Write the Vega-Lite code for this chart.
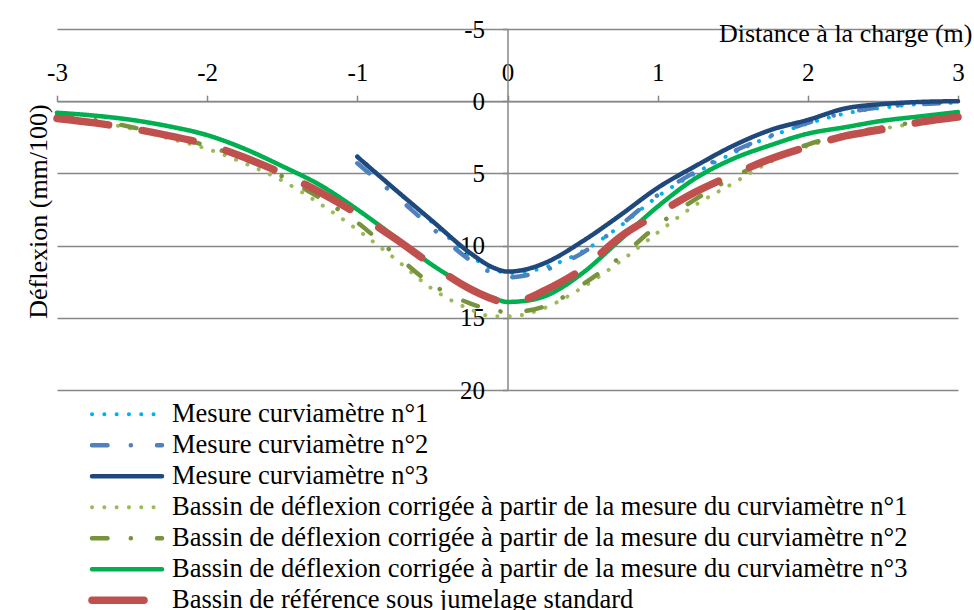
{
  "$schema": "https://vega.github.io/schema/vega-lite/v6.json",
  "width": 901,
  "height": 361,
  "autosize": "none",
  "padding": {"left": 57, "top": 29, "right": 16, "bottom": 220},
  "background": "white",
  "config": {
    "view": {"stroke": null},
    "font": "Liberation Serif",
    "legend": {"labelFont": "Liberation Serif", "labelFontSize": 26.5, "labelColor": "black"}
  },
  "data": {
    "values": [
      {"d": -3, "b1": 1.15, "b2": 1.0, "b3": 0.8, "ref": 1.2},
      {"d": -2.75, "b1": 1.45, "b2": 1.3, "b3": 1.0, "ref": 1.5},
      {"d": -2.5, "b1": 1.9, "b2": 1.8, "b3": 1.3, "ref": 1.9},
      {"d": -2.25, "b1": 2.6, "b2": 2.4, "b3": 1.75, "ref": 2.4},
      {"d": -2, "b1": 3.3, "b2": 3.1, "b3": 2.35, "ref": 3.0},
      {"d": -1.75, "b1": 4.3, "b2": 4.0, "b3": 3.3, "ref": 3.9},
      {"d": -1.5, "b1": 5.5, "b2": 5.2, "b3": 4.5, "ref": 5.0},
      {"d": -1.25, "b1": 7.1, "b2": 6.7, "b3": 5.8, "ref": 6.3},
      {"d": -1, "m1": 3.8, "m2": 4.3, "m3": 3.85, "b1": 8.9, "b2": 8.4, "b3": 7.5, "ref": 7.8},
      {"d": -0.75, "m1": 6.1, "m2": 6.5, "m3": 6.1, "b1": 10.9, "b2": 10.6, "b3": 9.4, "ref": 9.5},
      {"d": -0.5, "m1": 8.4, "m2": 8.8, "m3": 8.3, "b1": 13.0, "b2": 12.7, "b3": 11.35, "ref": 11.35},
      {"d": -0.25, "m1": 10.7, "m2": 11.0, "m3": 10.5, "b1": 14.4, "b2": 14.0, "b3": 12.9, "ref": 13.0},
      {"d": -0.1, "m1": 11.6, "m2": 11.9, "m3": 11.5, "b1": 14.9, "b2": 14.45, "b3": 13.6, "ref": 13.7},
      {"d": 0, "m1": 11.9, "m2": 12.2, "m3": 11.8, "b1": 14.9, "b2": 14.6, "b3": 13.9, "ref": 14.0},
      {"d": 0.1, "m1": 11.85, "m2": 12.1, "m3": 11.7, "b1": 14.8, "b2": 14.55, "b3": 13.85, "ref": 13.8},
      {"d": 0.25, "m1": 11.5, "m2": 11.7, "m3": 11.2, "b1": 14.3, "b2": 14.2, "b3": 13.5, "ref": 13.1},
      {"d": 0.5, "m1": 10.4, "m2": 10.5, "m3": 9.7, "b1": 12.9, "b2": 12.7, "b3": 11.9, "ref": 11.6},
      {"d": 0.75, "m1": 8.65, "m2": 8.6, "m3": 7.9, "b1": 11.1, "b2": 10.8, "b3": 9.6, "ref": 9.4},
      {"d": 1, "m1": 6.6, "m2": 6.5, "m3": 6.0, "b1": 9.1, "b2": 8.6, "b3": 7.3, "ref": 7.8},
      {"d": 1.25, "m1": 5.0, "m2": 4.9, "m3": 4.5, "b1": 7.2, "b2": 6.8, "b3": 5.35, "ref": 6.3},
      {"d": 1.5, "m1": 3.6, "m2": 3.5, "m3": 3.1, "b1": 5.7, "b2": 5.3, "b3": 4.0, "ref": 5.1},
      {"d": 1.75, "m1": 2.45, "m2": 2.4, "m3": 2.0, "b1": 4.2, "b2": 4.0, "b3": 3.05, "ref": 4.0},
      {"d": 2, "m1": 1.55, "m2": 1.5, "m3": 1.3, "b1": 3.1, "b2": 3.0, "b3": 2.25, "ref": 3.15},
      {"d": 2.25, "m1": 0.85, "m2": 0.8, "m3": 0.5, "b1": 2.45, "b2": 2.3, "b3": 1.8, "ref": 2.4},
      {"d": 2.5, "m1": 0.45, "m2": 0.4, "m3": 0.2, "b1": 1.9, "b2": 1.8, "b3": 1.35, "ref": 1.95},
      {"d": 2.75, "m1": 0.2, "m2": 0.2, "m3": 0.05, "b1": 1.5, "b2": 1.4, "b3": 1.05, "ref": 1.45},
      {"d": 3, "m1": 0.1, "m2": 0.1, "m3": 0.0, "b1": 1.15, "b2": 1.05, "b3": 0.75, "ref": 1.1}
    ]
  },
  "transform": [
    {"fold": ["m1", "m2", "m3", "b1", "b2", "b3", "ref"], "as": ["k", "v"]},
    {"filter": "isValid(datum.v)"},
    {"lookup": "k", "from": {"data": {"values": [
      {"k": "m1", "s": "Mesure curviamètre n°1"},
      {"k": "m2", "s": "Mesure curviamètre n°2"},
      {"k": "m3", "s": "Mesure curviamètre n°3"},
      {"k": "b1", "s": "Bassin de déflexion corrigée à partir de la mesure du curviamètre n°1"},
      {"k": "b2", "s": "Bassin de déflexion corrigée à partir de la mesure du curviamètre n°2"},
      {"k": "b3", "s": "Bassin de déflexion corrigée à partir de la mesure du curviamètre n°3"},
      {"k": "ref", "s": "Bassin de référence sous jumelage standard"}
    ]}, "key": "k", "fields": ["s"]}}
  ],
  "mark": {"type": "line", "interpolate": "monotone", "strokeCap": "round", "strokeJoin": "round"},
  "encoding": {
    "x": {
      "field": "d", "type": "quantitative",
      "scale": {"domain": [-3, 3], "nice": false, "zero": false},
      "axis": {
        "orient": "top", "offset": -72.2, "values": [-3, -2, -1, 0, 1, 2, 3],
        "grid": false, "domainColor": "#878787", "domainWidth": 1.5,
        "tickColor": "#878787", "tickWidth": 1.5, "tickSize": 6,
        "labelFont": "Liberation Serif", "labelFontSize": 25, "labelColor": "black",
        "labelPadding": 10, "labelFlush": false, "labelOverlap": false,
        "labelExpr": "datum.value < 0 ? '-' + abs(datum.value) : '' + datum.value",
        "title": "Distance à la charge (m)", "titleFont": "Liberation Serif", "titleFontSize": 26,
        "titleFontWeight": "normal", "titleColor": "black",
        "titleX": 915, "titleY": -68, "titleAlign": "right", "titleBaseline": "middle"
      }
    },
    "y": {
      "field": "v", "type": "quantitative",
      "scale": {"domain": [-5, 20], "reverse": true, "nice": false, "zero": false},
      "axis": {
        "orient": "left", "offset": -450.5, "values": [-5, 0, 5, 10, 15, 20],
        "grid": true, "gridColor": "#878787", "gridWidth": 1.5,
        "domainColor": "#878787", "domainWidth": 1.5,
        "tickColor": "#878787", "tickWidth": 1.5, "tickSize": 5,
        "labelFont": "Liberation Serif", "labelFontSize": 25, "labelColor": "black",
        "labelPadding": 18, "labelFlush": false, "labelOverlap": false,
        "labelExpr": "datum.value < 0 ? '-' + abs(datum.value) : '' + datum.value",
        "title": "Déflexion (mm/100)", "titleFont": "Liberation Serif", "titleFontSize": 26,
        "titleFontWeight": "normal", "titleColor": "black",
        "titleX": -469.5, "titleY": 182, "titleAlign": "center", "titleBaseline": "middle", "titleAngle": 270
      }
    },
    "color": {
      "field": "s", "type": "nominal",
      "scale": {
        "domain": [
          "Mesure curviamètre n°1",
          "Mesure curviamètre n°2",
          "Mesure curviamètre n°3",
          "Bassin de déflexion corrigée à partir de la mesure du curviamètre n°1",
          "Bassin de déflexion corrigée à partir de la mesure du curviamètre n°2",
          "Bassin de déflexion corrigée à partir de la mesure du curviamètre n°3",
          "Bassin de référence sous jumelage standard"
        ],
        "range": ["#00B0F0", "#4F81BD", "#1F497D", "#9BBB59", "#77933C", "#00B050", "#C0504D"]
      },
      "legend": {
        "orient": "none", "legendX": 31, "legendY": 370, "title": null,
        "symbolType": "stroke", "symbolSize": 4900, "padding": 0, "clipHeight": 30.5,
        "labelFont": "Liberation Serif", "labelFontSize": 26.5, "labelColor": "black",
        "labelLimit": 1000, "labelOffset": 6, "rowPadding": 0,
        "encode": {"symbols": {"update": {"strokeCap": {"value": "round"}}}}
      }
    },
    "strokeDash": {
      "field": "s", "type": "nominal",
      "scale": {
        "domain": [
          "Mesure curviamètre n°1",
          "Mesure curviamètre n°2",
          "Mesure curviamètre n°3",
          "Bassin de déflexion corrigée à partir de la mesure du curviamètre n°1",
          "Bassin de déflexion corrigée à partir de la mesure du curviamètre n°2",
          "Bassin de déflexion corrigée à partir de la mesure du curviamètre n°3",
          "Bassin de référence sous jumelage standard"
        ],
        "range": [[0.1, 12.2], [15.5, 23.3, 0.1, 26.1], [1, 0], [0.1, 12.2], [15.5, 23.3, 0.1, 26.1], [1, 0], [52, 34]]
      },
      "legend": {
        "orient": "none", "legendX": 31, "legendY": 370, "title": null,
        "symbolType": "stroke", "symbolSize": 4900, "padding": 0, "clipHeight": 30.5,
        "labelFont": "Liberation Serif", "labelFontSize": 26.5, "labelColor": "black",
        "labelLimit": 1000, "labelOffset": 6, "rowPadding": 0,
        "encode": {"symbols": {"update": {"strokeCap": {"value": "round"}}}}
      }
    },
    "strokeWidth": {
      "field": "s", "type": "nominal",
      "scale": {
        "type": "ordinal",
        "domain": [
          "Mesure curviamètre n°1",
          "Mesure curviamètre n°2",
          "Mesure curviamètre n°3",
          "Bassin de déflexion corrigée à partir de la mesure du curviamètre n°1",
          "Bassin de déflexion corrigée à partir de la mesure du curviamètre n°2",
          "Bassin de déflexion corrigée à partir de la mesure du curviamètre n°3",
          "Bassin de référence sous jumelage standard"
        ],
        "range": [4, 4.5, 4.5, 4, 4.5, 4.5, 7.5]
      },
      "legend": {
        "orient": "none", "legendX": 31, "legendY": 370, "title": null,
        "symbolType": "stroke", "symbolSize": 4900, "padding": 0, "clipHeight": 30.5,
        "labelFont": "Liberation Serif", "labelFontSize": 26.5, "labelColor": "black",
        "labelLimit": 1000, "labelOffset": 6, "rowPadding": 0,
        "encode": {"symbols": {"update": {"strokeCap": {"value": "round"}}}}
      }
    }
  }
}
